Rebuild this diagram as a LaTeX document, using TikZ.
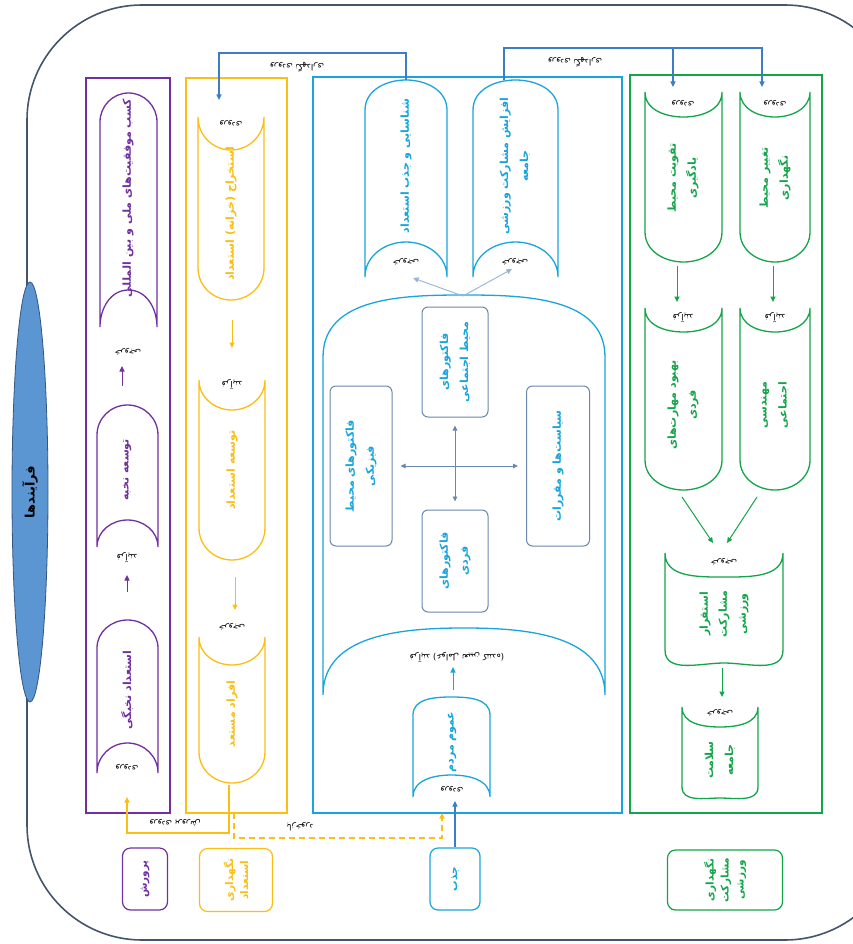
\documentclass[tikz,border=0pt]{standalone}
\usepackage{fontspec}
\newfontfamily\arabicfont[Script=Arabic]{DejaVu Sans}
\TeXXeTstate=1
\usetikzlibrary{arrows.meta,shapes.geometric}
\newcommand{\fa}[1]{\beginR #1\endR}
\definecolor{cpur}{RGB}{112,48,160}
\definecolor{cyel}{RGB}{250,190,20}
\definecolor{cblu}{RGB}{25,165,220}
\definecolor{cgrn}{RGB}{20,165,75}
\definecolor{cfrm}{RGB}{68,84,106}
\definecolor{cstl}{RGB}{60,125,195}
\definecolor{cgry}{RGB}{105,135,175}
\definecolor{clgt}{RGB}{150,180,215}
\definecolor{cell}{RGB}{91,150,210}
\definecolor{celld}{RGB}{50,85,130}
\newcommand{\domeTop}[7]{\pgfmathsetmacro{\xmid}{(#2+#3)/2}\draw[#1] (#2,#5) to[out=90,in=180] (\xmid,#4) to[out=0,in=90] (#3,#5) -- (#3,#6) to[out=90,in=0] (\xmid,#7) to[out=180,in=90] (#2,#6) -- cycle;}
\newcommand{\domeBot}[7]{\pgfmathsetmacro{\xmid}{(#2+#3)/2}\draw[#1] (#2,#4) to[out=-90,in=180] (\xmid,#5) to[out=0,in=-90] (#3,#4) -- (#3,#6) to[out=-90,in=0] (\xmid,#7) to[out=180,in=-90] (#2,#6) -- cycle;}
\tikzset{
  fatxt/.style={font=\arabicfont\bfseries\fontsize{11}{20}\selectfont, align=center, rotate=90, inner sep=0pt},
  lbl/.style={font=\arabicfont\fontsize{8.5}{9}\selectfont, rotate=180, inner sep=0pt, text=black},
  clbl/.style={font=\arabicfont\fontsize{8.5}{9}\selectfont, rotate=180, inner sep=0pt, text=black},
  shp/.style={line width=1.3pt},
  tri/.style={-{Triangle[length=5.5pt,width=5pt]}},
  rbox/.style={draw=cgry, line width=1pt, rounded corners=6pt, text=cblu, rotate=90, align=center, inner sep=2pt, font=\arabicfont\bfseries\fontsize{11}{20}\selectfont},
  lbox/.style={line width=1.2pt, rounded corners=8pt, rotate=90, align=center, inner sep=2pt, font=\arabicfont\bfseries\fontsize{10.5}{15}\selectfont},
  secbox/.style={line width=1.3pt},
}
\begin{document}
\begin{tikzpicture}[x=1pt,y=-1pt]
\useasboundingbox (0,0) rectangle (853,944);
\clip (0,0) rectangle (853,944);
\fill[white] (0,0) rectangle (853,944);
% outer frame
\draw[cfrm,line width=1.6pt,rounded corners=115pt] (27,5) rectangle (900,940);
% title ellipse
\node[ellipse, fill=cell, draw=celld, line width=0.8pt, minimum width=36pt, minimum height=420pt, inner sep=0pt] (title) at (30,492) {};
\node[fatxt, font=\arabicfont\bfseries\fontsize{13}{14}\selectfont, text=black] (titletxt) at (30,492) {\fa{فرآیندها}};
% section boxes
\draw[secbox, cpur] (86,78) rectangle (170,813);
\draw[secbox, cyel] (186,78) rectangle (287,813);
\draw[secbox, cblu, line width=1.8pt] (313,77) rectangle (622,813);
\draw[secbox, cgrn] (630,75) rectangle (822,813);

% ---------- purple ----------
\domeTop{shp,cpur}{100}{157}{93}{122}{327}{290}
\node[fatxt,text=cpur] (p1) at (128,198) {\fa{کسب موفقیت‌های ملی و بین المللی}};
\node[lbl] (p1l) at (128,352) {\fa{خروجی}};
\domeTop{shp,cpur}{97}{158}{405}{435}{547}{520}
\node[fatxt,text=cpur] (p2) at (127,470) {\fa{توسعه نخبه}};
\node[lbl] (p2l) at (127,557) {\fa{فرآیند}};
\domeTop{shp,cpur}{97}{158}{620}{648}{773}{743}
\node[fatxt,text=cpur] (p3) at (127,690) {\fa{استعداد نخبگی}};
\node[lbl] (p3l) at (127,767) {\fa{ورودی}};
\coordinate (pa1s) at (122,386); \coordinate (pa1e) at (122,366);
\coordinate (pa2s) at (127,592); \coordinate (pa2e) at (127,575);
\draw[cpur,line width=1pt,tri] (pa1s) -- (pa1e);
\draw[cpur,line width=1pt,tri] (pa2s) -- (pa2e);

% ---------- yellow ----------
\domeBot{shp,cyel}{198}{264}{117}{150}{268}{300}
\node[fatxt,text=cyel] (y1) at (231,214) {\fa{استخراج (خزانه) استعداد}};
\node[lbl] (y1l) at (231,123) {\fa{ورودی}};
\domeBot{shp,cyel}{199}{265}{380}{410}{528}{560}
\node[fatxt,text=cyel] (y2) at (232,470) {\fa{توسعه استعداد}};
\node[lbl] (y2l) at (232,384) {\fa{فرآیند}};
\domeBot{shp,cyel}{199}{265}{637}{665}{752}{783}
\node[fatxt,text=cyel] (y3) at (232,714) {\fa{افراد مستعد}};
\node[lbl] (y3l) at (232,627) {\fa{خروجی}};
\coordinate (ya1s) at (232,320); \coordinate (ya1e) at (232,348);
\coordinate (ya2s) at (235,577); \coordinate (ya2e) at (235,610);
\draw[cyel,line width=1pt,tri] (ya1s) -- (ya1e);
\draw[cyel,line width=1pt,tri] (ya2s) -- (ya2e);

% ---------- blue ----------
\domeTop{shp,cblu}{365}{447}{80}{110}{277}{242}
\node[fatxt,text=cblu] (b1) at (406,166) {\fa{شناسایی و جذب استعداد}};
\node[lbl] (b1l) at (406,262) {\fa{خروجی}};
\domeTop{shp,cblu}{473}{558}{80}{110}{277}{242}
\node[fatxt,text=cblu] (b2) at (515,166) {\fa{افزایش مشارکت ورزشی}\\\fa{جامعه}};
\node[lbl] (b2l) at (515,262) {\fa{خروجی}};
\domeTop{shp,cblu}{323}{605}{295}{357}{695}{628}
\node[clbl] (bigl) at (457,657) {\fa{فرآیند (عوامل تعیین کننده)}};
\domeTop{shp,cblu}{413}{490}{697}{715}{797}{775}
\node[fatxt,text=cblu] (b0) at (452,742) {\fa{عموم مردم}};
\node[lbl] (b0l) at (452,789) {\fa{ورودی}};
% factor boxes
\node[rbox, minimum width=110pt, minimum height=66pt] (r1) at (455,362) {\fa{فاکتورهای}\\\fa{محیط اجتماعی}};
\node[rbox, minimum width=160pt, minimum height=62pt] (r2) at (361,466) {\fa{فاکتورهای محیط}\\\fa{فیزیکی}};
\node[rbox, minimum width=160pt, minimum height=63pt] (r3) at (558,466) {\fa{سیاست‌ها و مقررات}};
\node[rbox, minimum width=102pt, minimum height=66pt] (r4) at (455,561) {\fa{فاکتورهای}\\\fa{فردی}};
\draw[cgry,line width=0.9pt,{Triangle[length=5pt,width=4.5pt]}-{Triangle[length=5pt,width=4.5pt]},shorten <=8pt,shorten >=8pt] (r1) -- (r4);
\draw[cgry,line width=0.9pt,{Triangle[length=5pt,width=4.5pt]}-{Triangle[length=5pt,width=4.5pt]},shorten <=8pt,shorten >=8pt] (r2) -- (r3);
% arrows inside blue
\coordinate (bigtop) at (463,296);
\coordinate (b1in) at (413,278); \coordinate (b2in) at (512,269);
\draw[clgt,line width=0.9pt,tri] (bigtop) -- (b1in);
\draw[clgt,line width=0.9pt,tri] (bigtop) -- (b2in);
\coordinate (b0top) at (453,690); \coordinate (bigin) at (453,667);
\draw[cblu,line width=1pt,tri] (b0top) -- (bigin);

% ---------- green ----------
\domeBot{shp,cgrn}{645}{722}{92}{117}{232}{262}
\node[fatxt,text=cgrn] (g1) at (683,178) {\fa{تقویت محیط}\\\fa{یادگیری}};
\node[lbl] (g1l) at (683,103) {\fa{ورودی}};
\domeBot{shp,cgrn}{740}{810}{92}{117}{232}{262}
\node[fatxt,text=cgrn] (g2) at (775,178) {\fa{تغییر محیط}\\\fa{نگهداری}};
\node[lbl] (g2l) at (775,103) {\fa{ورودی}};
\domeBot{shp,cgrn}{645}{722}{308}{332}{460}{490}
\node[fatxt,text=cgrn] (g3) at (683,405) {\fa{بهبود مهارت‌های}\\\fa{فردی}};
\node[lbl] (g3l) at (683,317) {\fa{فرآیند}};
\domeBot{shp,cgrn}{740}{810}{308}{332}{460}{490}
\node[fatxt,text=cgrn] (g4) at (775,405) {\fa{مهندسی}\\\fa{اجتماعی}};
\node[lbl] (g4l) at (775,317) {\fa{فرآیند}};
\domeBot{shp,cgrn}{665}{783}{553}{577}{650}{663}
\node[fatxt,text=cgrn,font=\arabicfont\bfseries\fontsize{11}{19}\selectfont] (g5) at (724,614) {\fa{استقرار}\\\fa{مشارکت}\\\fa{ورزشی}};
\node[lbl] (g5l) at (724,562) {\fa{خروجی}};
\domeBot{shp,cgrn}{682}{758}{707}{727}{787}{798}
\node[fatxt,text=cgrn] (g6) at (720,760) {\fa{سلامت}\\\fa{جامعه}};
\node[lbl] (g6l) at (720,713) {\fa{خروجی}};
\coordinate (ga1s) at (677,266); \coordinate (ga1e) at (677,302);
\coordinate (ga2s) at (773,266); \coordinate (ga2e) at (773,302);
\coordinate (ga3s) at (682,497); \coordinate (ga3e) at (713,543);
\coordinate (ga4s) at (757,497); \coordinate (ga4e) at (727,543);
\coordinate (ga5s) at (722,668); \coordinate (ga5e) at (722,697);
\foreach \a in {1,...,5}{\draw[cgrn,line width=1pt,tri] (ga\a s) -- (ga\a e);}

% ---------- bottom labels ----------
\node[lbox, draw=cpur, text=cpur, minimum width=62pt, minimum height=45pt] (l1) at (145,879) {\fa{پرورش}};
\node[lbox, draw=cyel, text=cyel, minimum width=63pt, minimum height=73pt] (l2) at (236,880) {\fa{نگهداری}\\\fa{استعداد}};
\node[lbox, draw=cblu, text=cblu, minimum width=62pt, minimum height=50pt] (l3) at (455,879) {\fa{جذب}};
\node[lbox, draw=cgrn, text=cgrn, minimum width=60pt, minimum height=115pt] (l4) at (725,880) {\fa{نگهداری}\\\fa{مشارکت}\\\fa{ورزشی}};

% ---------- connectors ----------
\coordinate (c1a) at (406,80); \coordinate (c1c) at (219,53); \coordinate (c1d) at (219,100);
\draw[cstl,line width=1.1pt,tri] (c1a) |- (c1c) -- (c1d);
\node[clbl] (c1l) at (297,67) {\fa{ورودی نگهداری}};
\coordinate (c2a) at (504,80); \coordinate (c2c) at (762,48); \coordinate (c2d) at (762,87);
\coordinate (c2e) at (673,48); \coordinate (c2f) at (673,87);
\draw[cstl,line width=1.1pt,tri] (c2a) |- (c2c) -- (c2d);
\draw[cstl,line width=1.1pt,tri] (c2e) -- (c2f);
\node[clbl] (c2l) at (575,62) {\fa{ورودی نگهداری}};
\coordinate (c3a) at (229,785); \coordinate (c3b) at (127,833); \coordinate (c3c) at (127,797);
\draw[cyel,line width=1.2pt,tri] (c3a) |- (c3b) -- (c3c);
\node[clbl] (c3l) at (175,823) {\fa{ورودی پرورش}};
\coordinate (c4a) at (234,813); \coordinate (c4b) at (442,838); \coordinate (c4c) at (442,813);
\draw[cyel,line width=1.2pt,dash pattern=on 6pt off 4pt,tri] (c4a) |- (c4b) -- (c4c);
\node[clbl] (c4l) at (300,827) {\fa{بازخورد}};
\coordinate (c5) at (455,801);
\draw[cstl,line width=1.2pt,tri] (l3) -- (c5);
\end{tikzpicture}
\end{document}
